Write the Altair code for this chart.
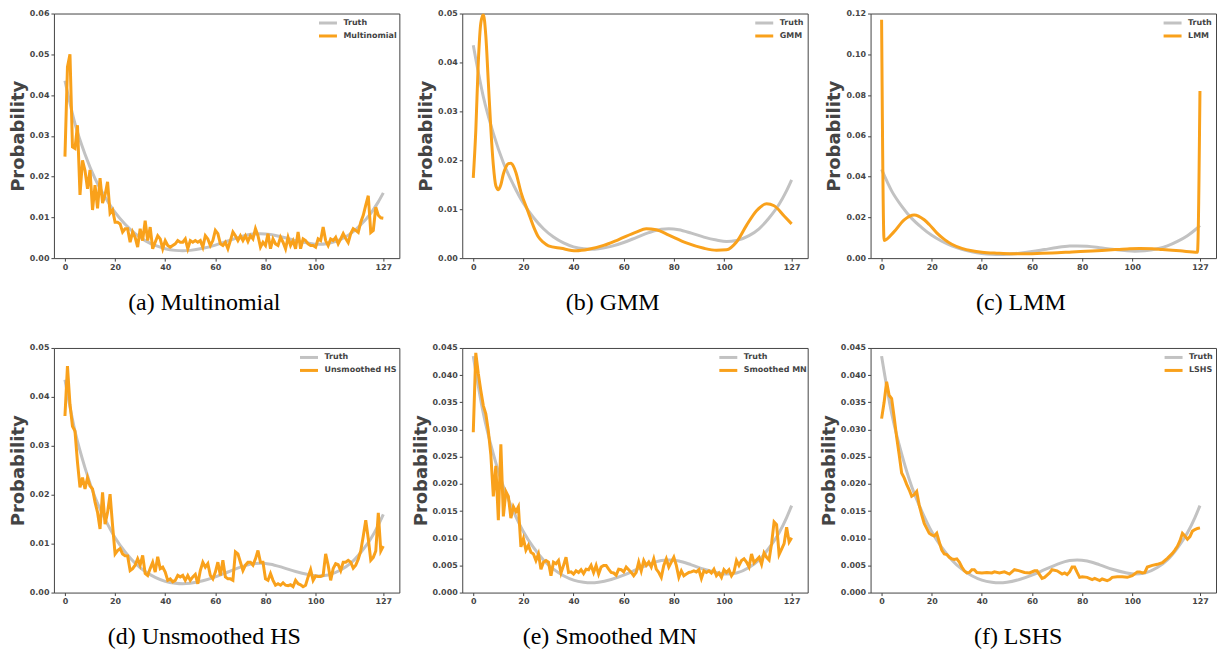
import altair as alt
import pandas as pd

X_TICKS = [0, 20, 40, 60, 80, 100, 127]

truth_x = [0, 4, 8, 12, 16, 20, 24, 28, 32, 36, 40, 44, 47, 50, 55, 60, 65, 70, 75, 78,
           82, 87, 92, 97, 101, 105, 110, 114, 118, 122, 125, 127]
truth_y = [0.0435, 0.0330, 0.0255, 0.0195, 0.0150, 0.0112, 0.0083, 0.0060, 0.0043, 0.0031,
           0.0023, 0.0019, 0.0018, 0.0019, 0.0024, 0.0032, 0.0042, 0.0052, 0.0059, 0.0060,
           0.0058, 0.0051, 0.0043, 0.0037, 0.0034, 0.0036, 0.0046, 0.0060, 0.0082, 0.0110,
           0.0138, 0.0160]

bins = list(range(128))

multinomial_y = [
    0.0249, 0.0469, 0.0500, 0.0273, 0.0269, 0.0326, 0.0155, 0.0240, 0.0215, 0.0170,
    0.0216, 0.0118, 0.0179, 0.0122, 0.0196, 0.0135, 0.0155, 0.0187, 0.0110, 0.0118,
    0.0088, 0.0088, 0.0084, 0.0064, 0.0072, 0.0072, 0.0039, 0.0064, 0.0051, 0.0027,
    0.0072, 0.0043, 0.0092, 0.0043, 0.0076, 0.0023, 0.0039, 0.0055, 0.0047, 0.0023,
    0.0043, 0.0031, 0.0027, 0.0031, 0.0035, 0.0043, 0.0039, 0.0039, 0.0047, 0.0023,
    0.0043, 0.0039, 0.0043, 0.0039, 0.0043, 0.0027, 0.0055, 0.0047, 0.0031, 0.0043,
    0.0068, 0.0060, 0.0035, 0.0031, 0.0039, 0.0023, 0.0043, 0.0064, 0.0055, 0.0043,
    0.0055, 0.0043, 0.0055, 0.0041, 0.0055, 0.0047, 0.0072, 0.0055, 0.0027, 0.0039,
    0.0031, 0.0060, 0.0023, 0.0047, 0.0035, 0.0031, 0.0051, 0.0039, 0.0023, 0.0051,
    0.0031, 0.0043, 0.0023, 0.0064, 0.0023, 0.0047, 0.0043, 0.0035, 0.0031, 0.0031,
    0.0027, 0.0047, 0.0043, 0.0076, 0.0043, 0.0031, 0.0047, 0.0043, 0.0051, 0.0035,
    0.0047, 0.0060, 0.0048, 0.0038, 0.0060, 0.0072, 0.0068, 0.0063, 0.0088, 0.0105,
    0.0130, 0.0153, 0.0063, 0.0068, 0.0125, 0.0105, 0.0099, 0.0098]

gmm_x = [0, 1, 2, 3, 4, 5, 6, 7, 8, 9, 10, 11, 12, 13, 14, 15, 16, 17, 19, 22, 24, 26, 28,
         30, 35, 41, 46, 52, 58, 65, 69, 73, 78, 85, 92, 97, 101, 105, 109, 113, 117, 120,
         124, 127]
gmm_y = [0.0164, 0.0260, 0.0400, 0.0480, 0.0498, 0.0455, 0.0360, 0.0265, 0.0190, 0.0148,
         0.0140, 0.0150, 0.0172, 0.0186, 0.0193, 0.0194, 0.0188, 0.0175, 0.0135, 0.0093,
         0.0065, 0.0043, 0.0032, 0.0025, 0.0020, 0.0015, 0.0018, 0.0026, 0.0038, 0.0053,
         0.0060, 0.0058, 0.0047, 0.0031, 0.0020, 0.0016, 0.0017, 0.0033, 0.0067, 0.0097,
         0.0111, 0.0107, 0.0086, 0.0070]

lmm_x = [0, 1, 5, 9, 13, 17, 19, 22, 25, 28, 32, 36, 40, 46, 52, 60, 68, 76, 84, 92, 98,
         103, 108, 112, 119, 126, 127]
lmm_y = [0.1170, 0.0087, 0.0130, 0.0188, 0.0212, 0.0188, 0.0165, 0.0124, 0.0092, 0.0068,
         0.0048, 0.0036, 0.0029, 0.0024, 0.0021, 0.0022, 0.0025, 0.0030, 0.0035, 0.0041,
         0.0045, 0.0047, 0.0046, 0.0042, 0.0036, 0.0029, 0.0820]

unsmoothed_hs_y = [
    0.0361, 0.0463, 0.0385, 0.0340, 0.0330, 0.0266, 0.0215, 0.0235, 0.0212, 0.0235,
    0.0218, 0.0212, 0.0185, 0.0164, 0.0130, 0.0205, 0.0140, 0.0164, 0.0201, 0.0137,
    0.0079, 0.0086, 0.0090, 0.0079, 0.0075, 0.0075, 0.0045, 0.0049, 0.0056, 0.0069,
    0.0056, 0.0076, 0.0039, 0.0035, 0.0049, 0.0062, 0.0042, 0.0073, 0.0049, 0.0052,
    0.0042, 0.0025, 0.0028, 0.0022, 0.0025, 0.0035, 0.0032, 0.0035, 0.0025, 0.0035,
    0.0025, 0.0032, 0.0037, 0.0018, 0.0045, 0.0062, 0.0052, 0.0059, 0.0035, 0.0028,
    0.0042, 0.0062, 0.0035, 0.0066, 0.0032, 0.0028, 0.0028, 0.0025, 0.0083, 0.0079,
    0.0062, 0.0045, 0.0056, 0.0062, 0.0062, 0.0056, 0.0069, 0.0086, 0.0062, 0.0062,
    0.0028, 0.0025, 0.0039, 0.0025, 0.0015, 0.0018, 0.0015, 0.0020, 0.0015, 0.0014,
    0.0016, 0.0012, 0.0025, 0.0018, 0.0016, 0.0012, 0.0015, 0.0032, 0.0047, 0.0025,
    0.0034, 0.0033, 0.0033, 0.0035, 0.0079, 0.0056, 0.0025, 0.0049, 0.0059, 0.0057,
    0.0045, 0.0062, 0.0062, 0.0066, 0.0062, 0.0050, 0.0056, 0.0068, 0.0085, 0.0115,
    0.0148, 0.0110, 0.0066, 0.0072, 0.0085, 0.0163, 0.0085, 0.0095]

smoothed_mn_y = [
    0.0295, 0.0441, 0.0403, 0.0372, 0.0344, 0.0329, 0.0298, 0.0254, 0.0177, 0.0233,
    0.0133, 0.0273, 0.0140, 0.0186, 0.0177, 0.0137, 0.0158, 0.0149, 0.0158, 0.0084,
    0.0099, 0.0078, 0.0087, 0.0074, 0.0071, 0.0059, 0.0071, 0.0043, 0.0056, 0.0059,
    0.0056, 0.0031, 0.0056, 0.0053, 0.0059, 0.0036, 0.0050, 0.0065, 0.0037, 0.0038,
    0.0034, 0.0040, 0.0037, 0.0042, 0.0035, 0.0043, 0.0042, 0.0050, 0.0037, 0.0050,
    0.0034, 0.0047, 0.0050, 0.0050, 0.0043, 0.0037, 0.0036, 0.0032, 0.0043, 0.0042,
    0.0038, 0.0047, 0.0042, 0.0037, 0.0031, 0.0037, 0.0056, 0.0040, 0.0059, 0.0050,
    0.0056, 0.0047, 0.0062, 0.0043, 0.0037, 0.0028, 0.0050, 0.0062, 0.0047, 0.0056,
    0.0065, 0.0050, 0.0028, 0.0040, 0.0031, 0.0034, 0.0037, 0.0038, 0.0040, 0.0038,
    0.0042, 0.0026, 0.0040, 0.0037, 0.0040, 0.0036, 0.0043, 0.0031, 0.0036, 0.0028,
    0.0042, 0.0037, 0.0042, 0.0031, 0.0038, 0.0059, 0.0050, 0.0059, 0.0062, 0.0056,
    0.0047, 0.0071, 0.0055, 0.0060, 0.0065, 0.0052, 0.0073, 0.0065, 0.0060, 0.0090,
    0.0130, 0.0125, 0.0070, 0.0080, 0.0090, 0.0120, 0.0093, 0.0101]

lshs_x = list(range(39)) + [40, 42, 44, 45, 47, 49, 51, 53, 55, 57, 59, 61, 62, 64, 65, 67,
                            68, 70, 72, 73, 74, 75, 76, 77, 78, 79, 80, 82, 84, 85, 87, 88,
                            90, 91, 92, 94, 96, 98, 100, 102, 103, 104, 105, 106, 108, 110,
                            112, 114] + list(range(116, 128))
lshs_y = [0.0320, 0.0350, 0.0388, 0.0363, 0.0357, 0.0323, 0.0286, 0.0254, 0.0220, 0.0211,
          0.0199, 0.0189, 0.0177, 0.0180, 0.0186, 0.0161, 0.0143, 0.0127, 0.0118, 0.0109,
          0.0106, 0.0104, 0.0109, 0.0093, 0.0078, 0.0071, 0.0070, 0.0065, 0.0062, 0.0061,
          0.0062, 0.0056, 0.0047, 0.0040, 0.0036, 0.0037, 0.0042, 0.0042, 0.0037,
          0.0036, 0.0037, 0.0036, 0.0038, 0.0036, 0.0038, 0.0034, 0.0042, 0.0040, 0.0037,
          0.0036, 0.0040, 0.0040, 0.0026, 0.0028, 0.0036, 0.0042, 0.0040, 0.0034, 0.0036,
          0.0033, 0.0038, 0.0047, 0.0047, 0.0037, 0.0028, 0.0029, 0.0028, 0.0024, 0.0026,
          0.0022, 0.0025, 0.0022, 0.0024, 0.0028, 0.0029, 0.0029, 0.0028, 0.0031, 0.0038,
          0.0038, 0.0036, 0.0037, 0.0047, 0.0050, 0.0052, 0.0055, 0.0063,
          0.0072, 0.0078, 0.0085, 0.0095, 0.0109, 0.0104, 0.0098, 0.0103, 0.0113, 0.0116,
          0.0118, 0.0119]

ticks_a = [0.0, 0.01, 0.02, 0.03, 0.04, 0.05, 0.06]
ticks_b = [0.0, 0.01, 0.02, 0.03, 0.04, 0.05]
ticks_c = [0.0, 0.02, 0.04, 0.06, 0.08, 0.10, 0.12]
ticks_e = [0.0, 0.005, 0.010, 0.015, 0.020, 0.025, 0.030, 0.035, 0.040, 0.045]

GRAY = "#c2c2c2"
ORANGE = "#f9a11b"
INK = "#444444"


def panel(name, caption, mx, my, ticks, fmt, interp, legend_x):
    truth = pd.DataFrame({"x": truth_x, "y": truth_y, "series": "Truth"})
    method = pd.DataFrame({"x": mx, "y": my, "series": name})
    xenc = alt.X("x:Q", scale=alt.Scale(domain=[-4.4, 133.4], nice=False, zero=False),
                 axis=alt.Axis(values=X_TICKS, format="d", title=None))
    yenc = alt.Y("y:Q", scale=alt.Scale(domain=[0, ticks[-1]], nice=False),
                 axis=alt.Axis(values=ticks, format=fmt, title="Probability"))
    cenc = alt.Color("series:N",
                     scale=alt.Scale(domain=["Truth", name], range=[GRAY, ORANGE]),
                     legend=alt.Legend(title=None, orient="none", direction="vertical",
                                       legendX=legend_x, legendY=3))
    t = alt.Chart(truth).mark_line(strokeWidth=3, interpolate="monotone", clip=True).encode(
        x=xenc, y=yenc, color=cenc)
    m = alt.Chart(method).mark_line(strokeWidth=3, interpolate=interp, clip=True).encode(
        x=xenc, y=yenc, color=cenc)
    return alt.layer(t, m).properties(
        width=346, height=245,
        title=alt.TitleParams(caption, orient="bottom", anchor="middle", offset=20,
                              frame="bounds", font="Liberation Serif", fontSize=24,
                              fontWeight="normal", color="black"))


a = panel("Multinomial", "(a) Multinomial", bins, multinomial_y, ticks_a, ".2f", "linear", 268)
b = panel("GMM", "(b) GMM", gmm_x, gmm_y, ticks_b, ".2f", "monotone", 296)
c = panel("LMM", "(c) LMM", lmm_x, lmm_y, ticks_c, ".2f", "monotone", 296)
d = panel("Unsmoothed HS", "(d) Unsmoothed HS", bins, unsmoothed_hs_y, ticks_b, ".2f",
          "linear", 249)
e = panel("Smoothed MN", "(e) Smoothed MN", bins, smoothed_mn_y, ticks_e, ".3f", "linear", 260)
f = panel("LSHS", "(f) LSHS", lshs_x, lshs_y, ticks_e, ".3f", "linear", 297)

chart = alt.concat(a, b, c, d, e, f, columns=3, spacing={"row": 90, "column": 63},
                   bounds="flush").resolve_scale(
    x="independent", y="independent", color="independent"
).resolve_legend(color="independent").properties(
    padding={"left": 0, "top": 0, "right": 0, "bottom": 0}
).configure_view(
    stroke=INK, strokeWidth=1
).configure_axis(
    labelFont="DejaVu Sans", labelFontWeight="bold", labelFontSize=8, labelColor=INK,
    titleFont="DejaVu Sans", titleFontWeight="bold", titleFontSize=18, titleColor=INK,
    domain=False, grid=False, tickSize=3, tickColor=INK, labelPadding=2, titlePadding=2
).configure_legend(
    labelFont="DejaVu Sans", labelFontWeight="bold", labelFontSize=8, labelColor=INK,
    symbolType="M-1.8,0L1.8,0", symbolStrokeWidth=3, symbolSize=100, labelOffset=9,
    padding=0, rowPadding=0
)

chart.save("out.html", embed_options={"renderer": "svg", "actions": False})
